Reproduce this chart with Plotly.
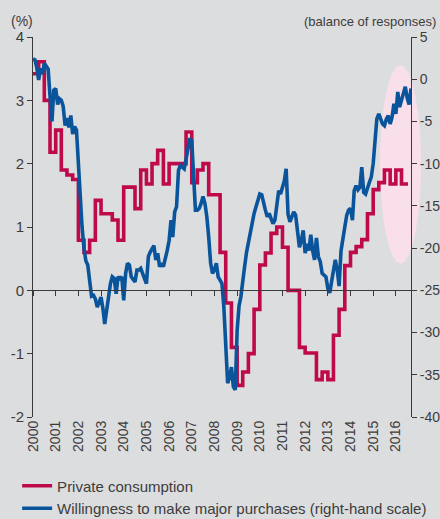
import plotly.graph_objects as go
import pandas as pd

# ---------------- data ----------------
# Private consumption (%, y/y), quarterly, 2000Q1 .. 2016Q2
red_quarter_start = "2000-01-01"
red_values = [
    3.42, 3.61, 3.0, 2.18,
    2.53, 1.9, 1.82, 1.75,
    0.79, 0.6, 0.79, 1.42,
    1.21, 1.21, 1.11, 0.79,
    1.63, 1.63, 1.29, 1.9,
    1.68, 2.0, 2.21, 1.68,
    2.0, 2.0, 2.0, 2.5,
    1.7, 1.9, 2.0, 1.51,
    1.51, 0.6, -0.2, -0.9,
    -1.5, -1.29, -1.0, -0.3,
    0.4, 0.59, 0.9, 1.0,
    0.68, 0.0, 0.0, -0.9,
    -0.99, -0.99, -1.41, -1.29,
    -1.41, -0.71, -0.3, 0.39,
    0.6, 0.69, 0.8, 1.21,
    1.59, 1.70, 1.9, 1.68,
    1.9, 1.68,
]
red_end_date = "2016-07-15"   # where the last step ends on the chart

# Willingness to make major purchases (balance of responses), monthly from 2000-01
blue_start = "2000-01-01"
blue_values = [
    2.4, 2.3, 1.4, -0.1, 1.3, 0.6, 1.9, 1.5, 1.2, -2.0, -5.0, -1.3,
    -1.1, -3.0, -2.3, -2.5, -3.2, -5.5, -4.6, -5.7, -4.3, -6.5, -5.6, -6.0,
    -10.5, -14.5, -17.5, -20.0, -21.5, -22.0, -24.0, -25.7, -25.6, -26.0, -27.0, -26.5,
    -25.8, -27.2, -29.0, -27.4, -25.4, -24.2, -23.4, -23.6, -25.4, -23.4, -23.6, -23.4,
    -26.2, -23.0, -21.8, -22.0, -23.4, -23.8, -24.0, -22.6, -22.6, -22.4, -23.2, -23.6,
    -24.2, -21.0, -20.5, -20.1, -19.7, -21.4, -20.6, -22.2, -21.8, -22.2, -21.4, -20.3,
    -19.1, -16.7, -18.7, -15.7, -15.1, -10.8, -10.2, -10.4, -10.6, -9.5, -8.0, -7.0,
    -7.3, -12.0, -15.5, -15.5, -15.3, -14.7, -13.9, -14.7, -16.3, -18.7, -21.8, -23.0,
    -22.6, -21.8, -23.4, -23.8, -24.2, -27.0, -32.1, -36.0, -35.3, -34.1, -36.4, -36.8,
    -29.7, -26.8, -25.8, -23.6, -22.2, -20.5, -19.3, -18.3, -17.1, -15.9, -15.1, -14.3,
    -13.6, -13.7, -14.7, -15.5, -16.3, -15.9, -16.5, -17.1, -16.7, -14.9, -13.2, -13.6,
    -12.8, -12.0, -10.6, -16.0, -16.9, -16.3, -15.7, -16.1, -17.9, -19.9, -19.1, -17.9,
    -20.6, -19.5, -20.3, -18.4, -20.3, -21.4, -18.8, -21.0, -21.6, -23.0, -23.2, -23.4,
    -24.8, -25.3, -24.0, -22.3, -21.4, -22.6, -24.5, -20.3, -18.5, -17.5, -16.1, -15.5,
    -15.3, -16.7, -13.2, -12.6, -13.1, -12.8, -10.4, -13.4, -13.6, -12.8, -12.2, -11.6,
    -10.0, -7.2, -4.7, -4.1, -4.7, -5.3, -5.5, -4.7, -4.3, -5.3, -4.5, -2.9,
    -4.1, -1.5, -3.3, -2.5, -2.0, -0.9, -2.2, -3.0, -1.1,
]

years = list(range(2000, 2017))
year_labels = [str(y) for y in years]
left_ticks = [-2, -1, 0, 1, 2, 3, 4]
left_labels = ["-2", "-1", "0", "1", "2", "3", "4"]
right_ticks = [-40, -35, -30, -25, -20, -15, -10, -5, 0, 5]
right_labels = ["-40", "-35", "-30", "-25", "-20", "-15", "-10", "-5", "0", "5"]

series_names = ["Private consumption",
                "Willingness to make major purchases (right-hand scale)"]

# ---------------- build ----------------
red_dates = list(pd.date_range(red_quarter_start, periods=len(red_values), freq="QS")) + [pd.Timestamp(red_end_date)]
red_y = red_values + [red_values[-1]]
blue_dates = pd.date_range(blue_start, periods=len(blue_values), freq="MS")
year_dates = [pd.Timestamp(f"{y}-01-01") for y in years]

RED = "#BE0A4A"
BLUE = "#0A549C"
BG = "#DCDDDF"
AX = "#3a3a3a"
FONT = "Liberation Sans, Arial, sans-serif"
TXT = "#3c3c3c"

fig = go.Figure()
fig.add_trace(go.Scatter(x=red_dates, y=red_y, mode="lines", line_shape="hv",
                         line=dict(color=RED, width=3.6), name=series_names[0],
                         xaxis="x", yaxis="y"))
fig.add_trace(go.Scatter(x=blue_dates, y=blue_values, mode="lines",
                         line=dict(color=BLUE, width=3.6), name=series_names[1],
                         xaxis="x", yaxis="y2"))
# carrier trace so the label-only x axis at the bottom is drawn
fig.add_trace(go.Scatter(x=blue_dates, y=[None] * len(blue_dates), mode="lines",
                         showlegend=False, hoverinfo="skip", xaxis="x2", yaxis="y"))

x_range = [blue_dates[0], blue_dates[-1]]

fig.update_layout(
    width=440, height=519,
    margin=dict(l=33, r=29, t=37, b=102, autoexpand=False),
    paper_bgcolor=BG, plot_bgcolor="rgba(0,0,0,0)",
    font=dict(family=FONT, size=14, color=TXT),
    showlegend=True,
    legend=dict(orientation="v", x=-0.042, xanchor="left", y=-0.138, yanchor="top",
                font=dict(family=FONT, size=15, color=TXT), bgcolor="rgba(0,0,0,0)",
                tracegroupgap=0, itemwidth=30),
    xaxis=dict(type="date", range=x_range, anchor="free", position=1/3,
               showline=True, linecolor=AX, linewidth=1,
               ticks="outside", ticklen=5, tickcolor=AX, tickwidth=1,
               tickvals=year_dates, showticklabels=False,
               showgrid=False, zeroline=False, automargin=False),
    xaxis2=dict(type="date", range=x_range, overlaying="x", anchor="y", side="bottom",
                showline=False, ticks="", tickvals=year_dates, ticktext=year_labels,
                tickangle=-90, tickfont=dict(family=FONT, size=14, color=TXT),
                showgrid=False, zeroline=False, automargin=False),
    yaxis=dict(range=[-2, 4], tickvals=left_ticks, ticktext=left_labels,
               showline=True, linecolor=AX, linewidth=1, ticks="outside",
               ticklen=5, tickcolor=AX, showgrid=False, zeroline=False,
               automargin=False, tickfont=dict(family=FONT, size=15, color=TXT)),
    yaxis2=dict(range=[-40, 5], tickvals=right_ticks, ticktext=right_labels,
                overlaying="y", side="right", anchor="x",
                showline=True, linecolor=AX, linewidth=1, ticks="outside",
                ticklen=5, tickcolor=AX, showgrid=False, zeroline=False,
                automargin=False, tickfont=dict(family=FONT, size=14, color=TXT)),
    shapes=[dict(type="circle", xref="paper", yref="paper",
                 x0=0.918, x1=1.0265, y0=0.4045, y1=0.9255,
                 fillcolor="#F8DFE9", line=dict(width=0), layer="below")],
    annotations=[
        dict(text="(%)", xref="paper", yref="paper", x=-0.063, y=1.042,
             xanchor="left", yanchor="middle", showarrow=False,
             font=dict(family=FONT, size=14, color=TXT)),
        dict(text="(balance of responses)", xref="paper", yref="paper", x=1.072, y=1.042,
             xanchor="right", yanchor="middle", showarrow=False,
             font=dict(family=FONT, size=13, color=TXT)),
    ],
)

fig.write_html("out.html", config={"displayModeBar": False},
               post_script="document.body.style.margin='0';document.body.style.background='%s';" % BG)
